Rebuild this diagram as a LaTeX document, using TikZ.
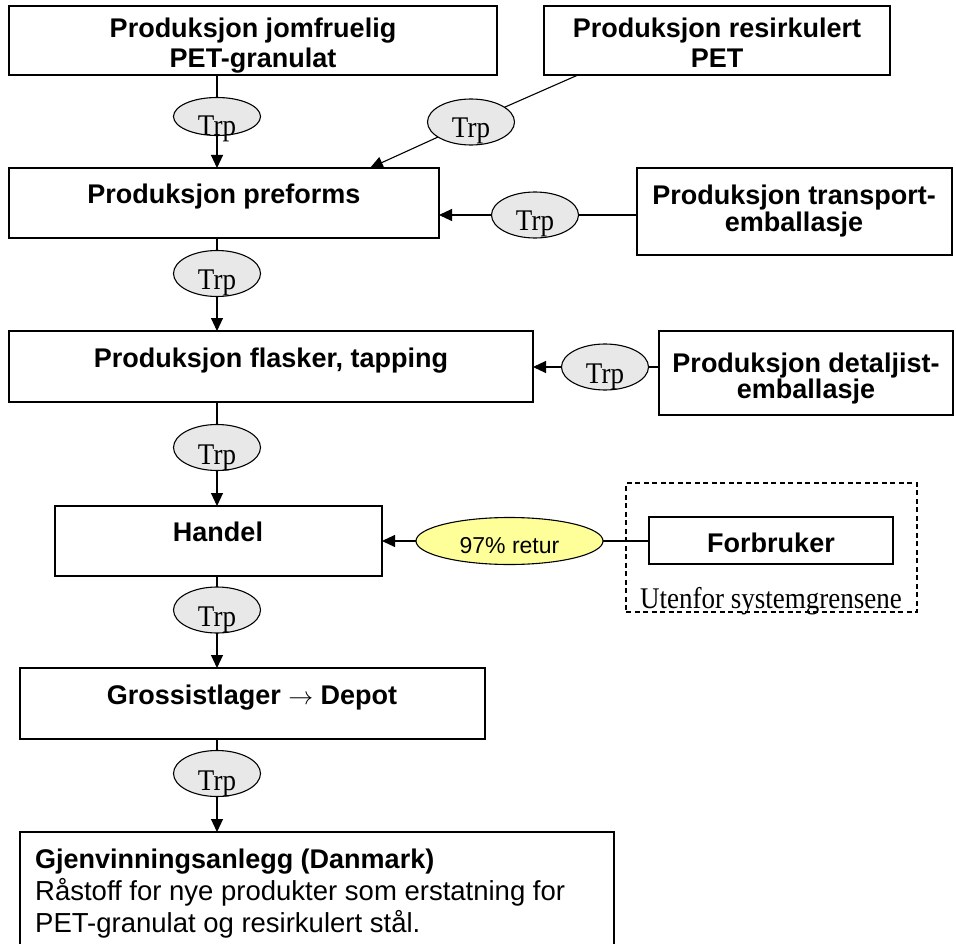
\documentclass[tikz,border=0pt]{standalone}
\usepackage{fontspec}
\setmainfont{Liberation Serif}
\setsansfont{Liberation Sans}
\newfontfamily\trpfont{Liberation Serif}[FakeStretch=0.9]
\usetikzlibrary{arrows.meta,shapes.geometric,fit}
\definecolor{trpgray}{HTML}{E8E8E8}
\definecolor{retyellow}{HTML}{FFFF99}
\tikzset{
  box/.style={draw, rectangle, line width=1.2pt, inner sep=0pt, outer sep=0pt},
  dbox/.style={draw, rectangle, line width=1.3pt, dash pattern=on 5pt off 3.5pt, inner sep=0pt, outer sep=0pt},
  bt/.style={font=\sffamily\bfseries\fontsize{27}{30}\selectfont, inner sep=0pt, anchor=base},
  rt/.style={font=\sffamily\fontsize{27.5}{32}\selectfont, inner sep=0pt, anchor=base west},
  tt/.style={font=\trpfont\fontsize{30}{32}\selectfont, inner sep=0pt, anchor=base},
  trp/.style={ellipse, draw, fill=trpgray, line width=1.1pt, inner sep=0pt, outer sep=0pt, minimum width=87pt, minimum height=46pt},
  retur/.style={ellipse, draw, fill=retyellow, line width=1.1pt, inner sep=0pt, outer sep=0pt, minimum width=187pt, minimum height=47pt},
  ln/.style={line width=1.1pt},
  arr/.style={line width=1.1pt, -{Triangle[length=13pt,width=12pt]}}
}
\begin{document}
\begin{tikzpicture}[x=1pt,y=-1pt]
\useasboundingbox (0,0) rectangle (956,944);
\clip (0,0) rectangle (956,944);
\fill[white] (0,0) rectangle (956,944);

% boxes
\node[box, fit={(9,6) (497,75)}] (A) {};
\node[box, fit={(544,6) (890,75)}] (B) {};
\node[box, fit={(9,168) (439,238)}] (C) {};
\node[box, fit={(637,168) (952,255)}] (D) {};
\node[box, fit={(9,331) (533,402)}] (E) {};
\node[box, fit={(659,331) (953,415)}] (F) {};
\node[box, fit={(55,506) (382,576)}] (G) {};
\node[dbox, fit={(626,483) (917,612)}] (S) {};
\node[box, fit={(649,517) (893,564)}] (K) {};
\node[box, fit={(20,668) (485,739)}] (H) {};
\node[box, fit={(20,832) (614,952)}] (I) {};

% box texts
\node[bt] (a1) at (253,38) {Produksjon jomfruelig};
\node[bt] (a2) at (253,68) {PET-granulat};
\node[bt] (b1) at (717,38) {Produksjon resirkulert};
\node[bt] (b2) at (717,68) {PET};
\node[bt] (c1) at (224,204) {Produksjon preforms};
\node[bt] (d1) at (794,205) {Produksjon transport-};
\node[bt] (d2) at (794,232) {emballasje};
\node[bt] (e1) at (271,367) {Produksjon flasker, tapping};
\node[bt] (f1) at (806,372) {Produksjon detaljist-};
\node[bt] (f2) at (806,398) {emballasje};
\node[bt] (g1) at (218,541) {Handel};
\node[bt] (k1) at (771,552) {Forbruker};
\node[tt] (s1) at (771,608) {Utenfor systemgrensene};
\node[bt] (h1) at (252,704) {Grossistlager \ensuremath{\rightarrow} Depot};
\node[bt, anchor=base west] (i1) at (35,868) {Gjenvinningsanlegg (Danmark)};
\node[rt] (i2) at (35,900) {Råstoff for nye produkter som erstatning for};
\node[rt] (i3) at (35,932) {PET-granulat og resirkulert stål.};

% transport ellipses
\node[trp, minimum height=38pt] (t1) at (217,116.5) {};
\node[trp] (t2) at (471,122) {};
\node[trp] (t3) at (535,215) {};
\node[trp] (t4) at (217,273.5) {};
\node[trp] (t5) at (605,367) {};
\node[trp] (t6) at (217,447.5) {};
\node[retur] (r) at (509.5,541) {};
\node[trp] (t7) at (217,610) {};
\node[trp] (t8) at (217,773.5) {};

\node[tt] (t1l) at (217,136) {Trp};
\node[tt] (t2l) at (471,138) {Trp};
\node[tt] (t3l) at (535,231) {Trp};
\node[tt] (t4l) at (217,290) {Trp};
\node[tt] (t5l) at (605,383) {Trp};
\node[tt] (t6l) at (217,464) {Trp};
\node[tt] (t7l) at (217,626) {Trp};
\node[tt] (t8l) at (217,790) {Trp};
\node[font=\sffamily\fontsize{23}{26}\selectfont, inner sep=0pt, anchor=base] (rl) at (509.5,553) {97\% retur};

% connectors
\coordinate (bout) at (578,75);
\coordinate (cin) at (370,168);

\draw[ln] (A.south -| t1) -- (t1);
\draw[arr] (t1) -- (C.north -| t1);
\draw[ln] (bout) -- (t2);
\draw[arr] (t2) -- (cin);
\draw[ln] (D.west |- t3) -- (t3);
\draw[arr] (t3) -- (C.east |- t3);
\draw[ln] (C.south -| t4) -- (t4);
\draw[arr] (t4) -- (E.north -| t4);
\draw[ln] (F.west |- t5) -- (t5);
\draw[arr] (t5) -- (E.east |- t5);
\draw[ln] (E.south -| t6) -- (t6);
\draw[arr] (t6) -- (G.north -| t6);
\draw[ln] (K.west |- r) -- (r);
\draw[arr] (r) -- (G.east |- r);
\draw[ln] (G.south -| t7) -- (t7);
\draw[arr] (t7) -- (H.north -| t7);
\draw[ln] (H.south -| t8) -- (t8);
\draw[arr] (t8) -- (I.north -| t8);
\end{tikzpicture}
\end{document}
